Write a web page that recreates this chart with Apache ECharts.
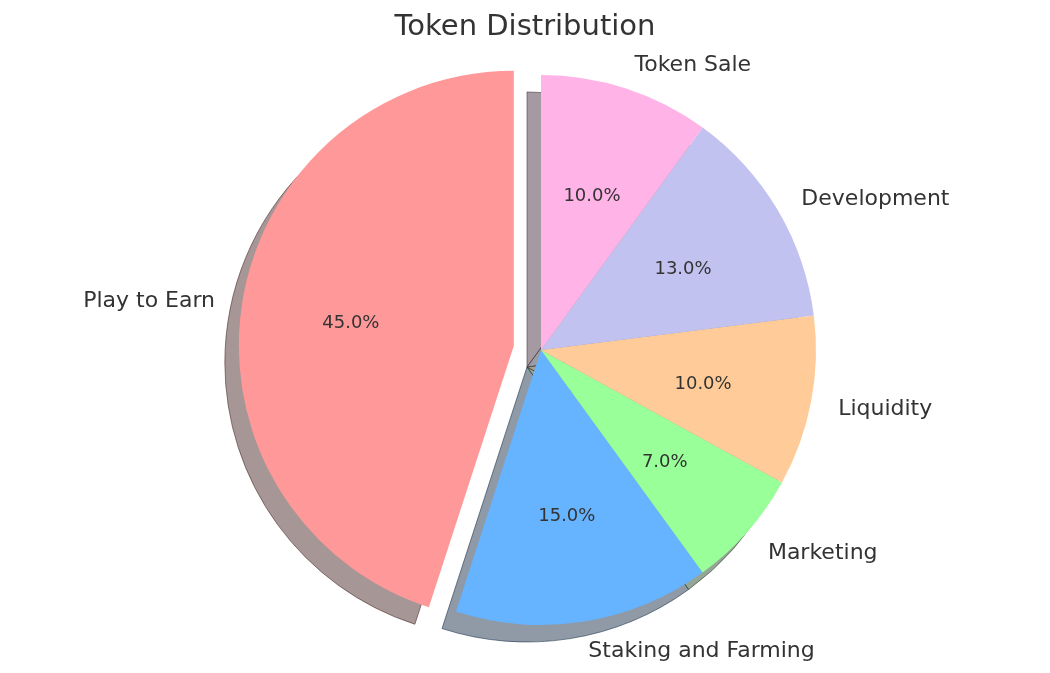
<!DOCTYPE html>
<html>
<head>
<meta charset="utf-8">
<script src="https://cdn.jsdelivr.net/npm/echarts@6/dist/echarts.min.js"></script>
<style>
  html, body { margin: 0; padding: 0; background: #fff; }
  #chart { width: 1050px; height: 673px; }
</style>
</head>
<body>
<div id="chart"></div>
<script>
const categories = ['Play to Earn', 'Staking and Farming', 'Marketing', 'Liquidity', 'Development', 'Token Sale']
const shares = [45, 15, 7, 10, 13, 10]
const colors = ['#ff9999', '#66b3ff', '#99ff99', '#ffcc99', '#c2c2f0', '#ffb3e6']
const exploded = [true, false, false, false, false, false]

const R = 275
const CX = 541
const CY = 350
const OFFSET = 27.5

// matplotlib style shadow: 0.3 * face colour at half alpha
function shade(hex, k, a) {
  const n = parseInt(hex.slice(1), 16)
  const r = Math.round(((n >> 16) & 255) * k)
  const g = Math.round(((n >> 8) & 255) * k)
  const b = Math.round((n & 255) * k)
  return 'rgba(' + r + ',' + g + ',' + b + ',' + a + ')'
}

const chart = echarts.init(document.getElementById('chart'))

const base = {
  type: 'pie',
  startAngle: 90,
  clockwise: false,
  selectedMode: 'single',
  selectedOffset: OFFSET,
  silent: true,
  animation: false,
  avoidLabelOverlap: false,
  emphasis: { disabled: true }
}

const option = {
  backgroundColor: '#fff',
  title: {
    text: 'Token Distribution',
    left: 'center',
    top: 8,
    textStyle: {
      fontFamily: 'DejaVu Sans',
      fontSize: 29,
      fontWeight: 'normal',
      color: '#333'
    }
  },
  series: [
    Object.assign({}, base, {
      name: 'shadow',
      z: 1,
      center: [CX - 14, CY + 17],
      radius: R,
      label: { show: false },
      labelLine: { show: false },
      data: categories.map((c, i) => ({
        name: c,
        value: shares[i],
        selected: exploded[i],
        itemStyle: {
          color: shade(colors[i], 0.3, 0.5),
          borderColor: shade(colors[i], 0.3, 0.6),
          borderWidth: 1
        }
      }))
    }),
    Object.assign({}, base, {
      name: 'pie',
      z: 2,
      center: [CX, CY],
      radius: R,
      label: {
        show: true,
        position: 'outside',
        distanceToLabelLine: 0,
        fontFamily: 'DejaVu Sans',
        fontSize: 22,
        color: '#333',
        offset: [0, 3],
        formatter: '{b}'
      },
      select: { label: { offset: [0, 3] } },
      labelLine: { show: false, length: OFFSET, length2: 0 },
      data: categories.map((c, i) => ({
        name: c,
        value: shares[i],
        selected: exploded[i],
        itemStyle: { color: colors[i], borderWidth: 0 }
      }))
    }),
    Object.assign({}, base, {
      name: 'pct',
      z: 3,
      center: [CX, CY],
      radius: (0.6 * R - 3) * 2,
      label: {
        show: true,
        position: 'inside',
        fontFamily: 'DejaVu Sans',
        fontSize: 18,
        color: '#333',
        offset: [0, 3],
        formatter: p => p.value.toFixed(1) + '%'
      },
      select: { label: { offset: [0, 3] } },
      labelLine: { show: false },
      data: categories.map((c, i) => ({
        name: c,
        value: shares[i],
        selected: exploded[i],
        itemStyle: { color: 'rgba(0,0,0,0)', borderWidth: 0 }
      }))
    })
  ]
}

chart.setOption(option)
</script>
</body>
</html>
